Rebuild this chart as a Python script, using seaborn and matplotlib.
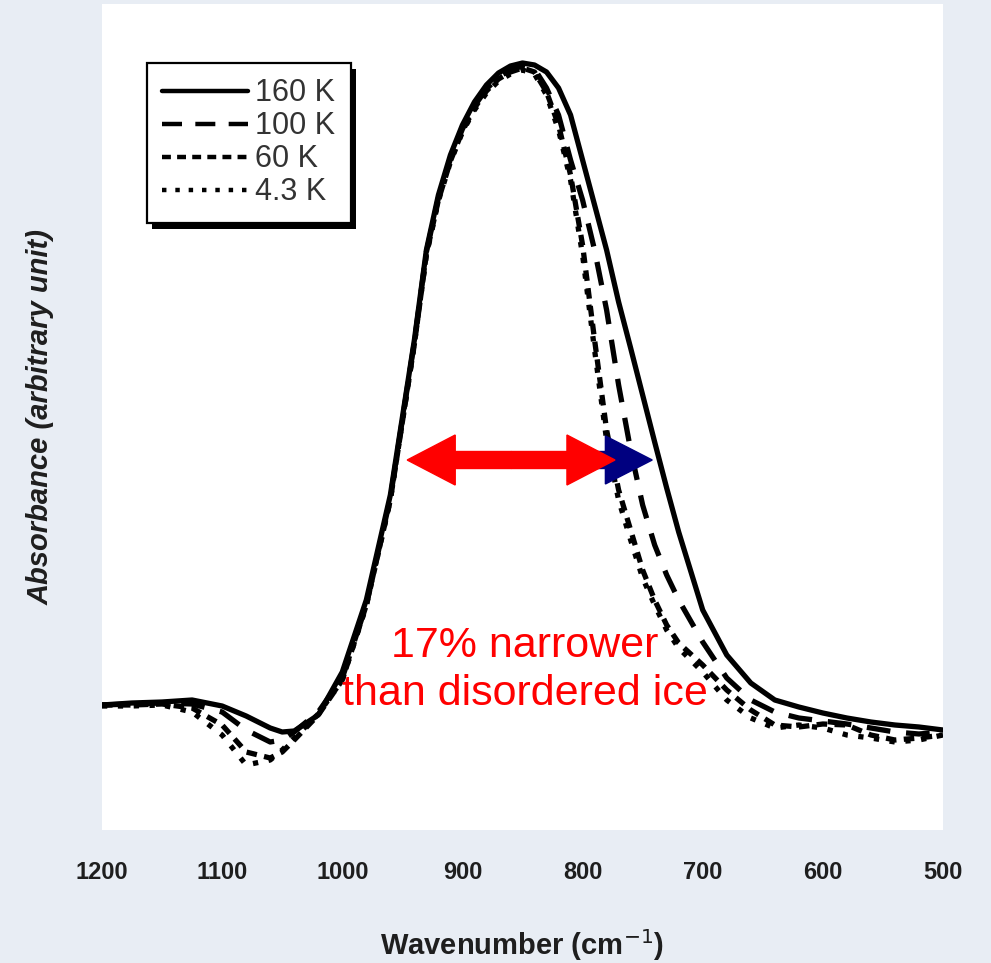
import numpy as np
import pandas as pd
import matplotlib
matplotlib.use("Agg")
import matplotlib.pyplot as plt
from matplotlib.patches import FancyArrow, Rectangle
import seaborn as sns

# ---- data (absorbance in arbitrary units) ----
wavenumber = [1200, 1175, 1150, 1125, 1100, 1080, 1060, 1050, 1040, 1020, 1000,
              980, 960, 940, 930, 920, 910, 900, 890, 880, 870, 860, 850, 840,
              830, 820, 810, 800, 790, 780, 770, 760, 750, 740, 730, 720, 700,
              680, 660, 640, 620, 600, 580, 560, 540, 520, 500]

abs_160K = [125, 127, 128, 130, 124, 114, 102, 98, 99, 115, 158,
            230, 335, 490, 580, 635, 675, 705, 728, 745, 757, 764, 767, 765,
            758, 742, 715, 670, 625, 580, 528, 482, 435, 388, 342, 298, 220,
            175, 147, 130, 123, 117, 112, 108, 105, 103, 100]
abs_100K = [125, 126, 127, 126, 118, 100, 88, 90, 98, 118, 152,
            225, 332, 488, 578, 632, 671, 701, 724, 741, 753, 760, 764, 761,
            742, 715, 670, 630, 580, 520, 445, 380, 325, 285, 255, 230, 188,
            152, 130, 118, 112, 109, 106, 102, 98, 96, 98]
abs_60K = [125, 125, 126, 122, 105, 78, 72, 78, 90, 115, 150,
           225, 330, 486, 576, 630, 669, 699, 722, 739, 751, 758, 762, 758,
           738, 705, 655, 585, 490, 400, 340, 300, 260, 230, 205, 187, 165,
           140, 120, 105, 103, 106, 105, 95, 90, 92, 95]
abs_4K = [124, 124, 125, 118, 95, 65, 70, 80, 92, 116, 150,
          224, 330, 486, 575, 629, 668, 698, 720, 737, 749, 756, 760, 756,
          735, 700, 650, 575, 480, 390, 330, 290, 252, 225, 200, 182, 158,
          130, 112, 102, 105, 102, 95, 92, 88, 90, 95]

series_labels = ["160 K", "100 K", "60 K", "4.3 K"]
series_values = [abs_160K, abs_100K, abs_60K, abs_4K]
series_dashes = [None, (4.5, 3.0), (2.0, 1.4), (1.0, 2.0)]

x_ticks = [1200, 1100, 1000, 900, 800, 700, 600, 500]
x_ticklabels = ["1200", "1100", "1000", "900", "800", "700", "600", "500"]

# annotation arrow (wavenumber / absorbance units)
arrow_left, arrow_right, arrow_y = 946, 773, 370
blue_start, blue_tip = 800, 742

# ---- plotting ----
sns.set_theme(style="white")
fam = ["Liberation Sans", "DejaVu Sans"]
plt.rcParams["font.family"] = fam

fig = plt.figure(figsize=(9.91, 9.63), dpi=100)
bg = "#e8edf4"
fig.patch.set_facecolor(bg)
ax = fig.add_axes([102 / 991, 1 - 830 / 963, 841 / 991, 826 / 963])
ax.set_facecolor("white")

rows = []
for lab, vals in zip(series_labels, series_values):
    for w, v in zip(wavenumber, vals):
        rows.append({"wavenumber": w, "absorbance": v, "T": lab})
df = pd.DataFrame(rows)

for lab, dsh in zip(series_labels, series_dashes):
    sub = df[df["T"] == lab]
    sns.lineplot(data=sub, x="wavenumber", y="absorbance", ax=ax, color="black",
                 linewidth=3.8, label=lab, sort=False)
    line = ax.lines[-1]
    line.set_solid_joinstyle("round")
    if dsh is not None:
        line.set_dashes(dsh)

ax.set_xlim(1200, 500)
ax.set_ylim(0, 826)
ax.set_xticks(x_ticks)
ax.set_xticklabels(x_ticklabels, fontsize=17, fontweight="bold", color="#1e1e1e")
ax.set_yticks([])
ax.tick_params(axis="x", length=0, pad=22)
for s in ax.spines.values():
    s.set_visible(False)

ax.set_xlabel("Wavenumber (cm$^{-1}$)", fontsize=21, fontweight="bold",
              color="#1e1e1e", labelpad=31)
ax.set_ylabel("Absorbance (arbitrary unit)", fontsize=21, fontweight="bold",
              style="italic", color="#1e1e1e", labelpad=34)

leg = ax.legend(loc="upper left", bbox_to_anchor=((147 - 102) / 841, (830 - 63) / 826),
                borderaxespad=0, frameon=True, fancybox=False, shadow=False,
                prop={"family": fam, "size": 22},
                handlelength=2.8, handletextpad=0.25, labelspacing=0.1,
                borderpad=0.5, edgecolor="black", framealpha=1)
leg.get_frame().set_linewidth(1.6)
for t in leg.get_texts():
    t.set_color("#333333")
for h in leg.legend_handles:
    h.set_linewidth(3.2)

# arrows
mid = (arrow_left + arrow_right) / 2
ax.add_patch(FancyArrow(blue_start, arrow_y, blue_tip - blue_start, 0, width=17,
                        head_width=48, head_length=39, length_includes_head=True,
                        color="#000080", zorder=5))
for end in (arrow_left, arrow_right):
    ax.add_patch(FancyArrow(mid, arrow_y, end - mid, 0, width=17, head_width=50,
                            head_length=40, length_includes_head=True,
                            color="#ff0000", zorder=6))

ax.text(848, 184, "17% narrower", color="#ff0000", fontsize=31, ha="center",
        va="center", family=fam, zorder=7)
ax.text(848, 136, "than disordered ice", color="#ff0000", fontsize=31, ha="center",
        va="center", family=fam, zorder=7)

# legend drop shadow (offset right / down)
fig.canvas.draw()
bb = leg.get_window_extent()
shadow = Rectangle((bb.x0 + 5, bb.y0 - 6), bb.width, bb.height, transform=None,
                   facecolor="black", edgecolor="none", zorder=4.9, clip_on=False)
ax.add_artist(shadow)

fig.savefig("out.png", dpi=100, facecolor=bg)
